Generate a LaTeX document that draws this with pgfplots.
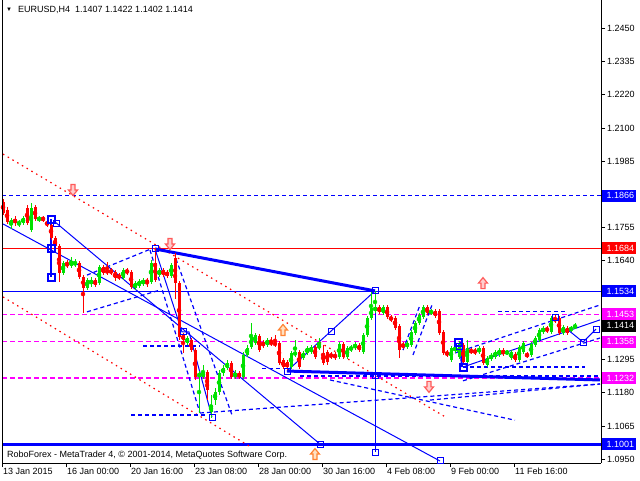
\documentclass[border=0pt]{standalone}
\usepackage{fontspec}
\setmainfont{Liberation Sans}
\usepackage{pgfplots}
\usepackage{pgfplotstable}
\pgfplotsset{compat=1.18}
\usetikzlibrary{plotmarks}
\definecolor{cgreen}{RGB}{0,225,0}
\definecolor{mtblue}{RGB}{0,0,255}
\definecolor{mtmag}{RGB}{255,0,255}
\definecolor{mtred}{RGB}{255,0,0}
\definecolor{arrpink}{RGB}{255,90,90}
\definecolor{arrpinkfill}{RGB}{255,205,205}
\definecolor{arrorange}{RGB}{255,130,50}
\definecolor{arrorangefill}{RGB}{255,225,195}

\pgfdeclareplotmark{dnarr}{%
  \pgfpathmoveto{\pgfpoint{-2pt}{5.5pt}}%
  \pgfpathlineto{\pgfpoint{2pt}{5.5pt}}%
  \pgfpathlineto{\pgfpoint{2pt}{0pt}}%
  \pgfpathlineto{\pgfpoint{4.5pt}{0pt}}%
  \pgfpathlineto{\pgfpoint{0pt}{-5.5pt}}%
  \pgfpathlineto{\pgfpoint{-4.5pt}{0pt}}%
  \pgfpathlineto{\pgfpoint{-2pt}{0pt}}%
  \pgfpathclose
  \pgfusepathqfillstroke}
\pgfdeclareplotmark{uparr}{%
  \pgfpathmoveto{\pgfpoint{-2pt}{-5.5pt}}%
  \pgfpathlineto{\pgfpoint{2pt}{-5.5pt}}%
  \pgfpathlineto{\pgfpoint{2pt}{0pt}}%
  \pgfpathlineto{\pgfpoint{4.5pt}{0pt}}%
  \pgfpathlineto{\pgfpoint{0pt}{5.5pt}}%
  \pgfpathlineto{\pgfpoint{-4.5pt}{0pt}}%
  \pgfpathlineto{\pgfpoint{-2pt}{0pt}}%
  \pgfpathclose
  \pgfusepathqfillstroke}

\pgfplotstableread{
x o h l c
3 1.1844 1.1855 1.1799 1.1806
7 1.1817 1.1827 1.1768 1.1775
15 1.1785 1.1796 1.1761 1.1771
27 1.1824 1.1834 1.1764 1.1771
35 1.1827 1.1834 1.1778 1.1785
43 1.1789 1.1796 1.1775 1.1782
47 1.1775 1.1782 1.1757 1.1764
51 1.1764 1.1775 1.1712 1.1719
55 1.1719 1.1726 1.1677 1.1691
59 1.1691 1.1698 1.1566 1.1597
67 1.1632 1.1643 1.1615 1.1622
79 1.1632 1.1639 1.1576 1.1583
83 1.1583 1.1590 1.1458 1.1545
95 1.1573 1.1580 1.1549 1.1556
103 1.1618 1.1625 1.1590 1.1597
107 1.1608 1.1636 1.1590 1.1597
111 1.1608 1.1615 1.1590 1.1597
115 1.1601 1.1608 1.1569 1.1580
119 1.1590 1.1597 1.1573 1.1580
127 1.1608 1.1615 1.1590 1.1597
131 1.1601 1.1608 1.1542 1.1549
147 1.1573 1.1580 1.1549 1.1562
155 1.1632 1.1684 1.1566 1.1573
163 1.1608 1.1615 1.1583 1.1590
167 1.1601 1.1608 1.1580 1.1587
175 1.1650 1.1667 1.1507 1.1562
179 1.1562 1.1569 1.1364 1.1374
183 1.1382 1.1388 1.1319 1.1364
191 1.1364 1.1371 1.1322 1.1329
195 1.1329 1.1336 1.1225 1.1235
207 1.1252 1.1259 1.1155 1.1190
231 1.1284 1.1291 1.1228 1.1235
239 1.1249 1.1256 1.1228 1.1235
259 1.1378 1.1385 1.1322 1.1329
263 1.1357 1.1364 1.1336 1.1343
271 1.1357 1.1374 1.1343 1.1350
275 1.1354 1.1382 1.1340 1.1347
279 1.1354 1.1361 1.1277 1.1284
283 1.1294 1.1301 1.1263 1.1270
287 1.1287 1.1294 1.1259 1.1270
299 1.1322 1.1329 1.1263 1.1270
315 1.1340 1.1347 1.1298 1.1305
323 1.1319 1.1347 1.1277 1.1284
327 1.1322 1.1329 1.1277 1.1287
331 1.1315 1.1322 1.1298 1.1305
335 1.1312 1.1322 1.1294 1.1305
343 1.1350 1.1357 1.1298 1.1305
359 1.1347 1.1354 1.1322 1.1329
379 1.1479 1.1486 1.1455 1.1462
387 1.1479 1.1486 1.1437 1.1444
391 1.1444 1.1451 1.1427 1.1434
395 1.1441 1.1448 1.1399 1.1406
399 1.1413 1.1420 1.1301 1.1329
403 1.1350 1.1357 1.1333 1.1340
427 1.1479 1.1486 1.1451 1.1458
435 1.1465 1.1472 1.1441 1.1448
439 1.1465 1.1472 1.1382 1.1388
443 1.1392 1.1399 1.1312 1.1319
447 1.1322 1.1329 1.1305 1.1312
463 1.1347 1.1354 1.1277 1.1287
471 1.1329 1.1336 1.1315 1.1322
475 1.1329 1.1336 1.1312 1.1319
483 1.1336 1.1343 1.1277 1.1284
503 1.1329 1.1336 1.1308 1.1315
515 1.1315 1.1322 1.1287 1.1294
527 1.1315 1.1322 1.1301 1.1308
547 1.1406 1.1413 1.1388 1.1395
555 1.1441 1.1451 1.1423 1.1430
559 1.1441 1.1448 1.1382 1.1388
567 1.1406 1.1413 1.1382 1.1388
}\bear

\pgfplotstableread{
x o h l c
11 1.1764 1.1789 1.1750 1.1782
19 1.1768 1.1782 1.1757 1.1775
23 1.1771 1.1796 1.1764 1.1789
31 1.1747 1.1841 1.1740 1.1824
39 1.1782 1.1796 1.1775 1.1789
63 1.1597 1.1639 1.1590 1.1632
71 1.1622 1.1653 1.1615 1.1639
75 1.1625 1.1646 1.1618 1.1636
87 1.1545 1.1580 1.1538 1.1573
91 1.1559 1.1583 1.1549 1.1573
99 1.1562 1.1625 1.1556 1.1618
123 1.1580 1.1615 1.1573 1.1608
135 1.1545 1.1569 1.1538 1.1562
139 1.1552 1.1576 1.1545 1.1569
143 1.1559 1.1580 1.1552 1.1573
151 1.1566 1.1643 1.1559 1.1632
159 1.1590 1.1615 1.1583 1.1608
171 1.1587 1.1632 1.1580 1.1625
187 1.1354 1.1378 1.1347 1.1371
199 1.1235 1.1256 1.1110 1.1249
203 1.1235 1.1277 1.1228 1.1252
211 1.1113 1.1173 1.1093 1.1138
215 1.1155 1.1197 1.1138 1.1183
219 1.1183 1.1259 1.1173 1.1249
223 1.1249 1.1277 1.1239 1.1266
227 1.1266 1.1294 1.1259 1.1284
235 1.1235 1.1259 1.1228 1.1249
243 1.1235 1.1322 1.1228 1.1312
247 1.1312 1.1347 1.1305 1.1336
251 1.1340 1.1423 1.1333 1.1374
255 1.1354 1.1388 1.1347 1.1382
267 1.1347 1.1371 1.1340 1.1364
291 1.1270 1.1326 1.1263 1.1319
295 1.1312 1.1364 1.1305 1.1322
303 1.1301 1.1326 1.1294 1.1319
307 1.1319 1.1343 1.1312 1.1336
311 1.1322 1.1347 1.1315 1.1340
319 1.1336 1.1371 1.1329 1.1347
339 1.1305 1.1357 1.1298 1.1350
347 1.1305 1.1343 1.1298 1.1336
351 1.1329 1.1347 1.1322 1.1340
355 1.1336 1.1357 1.1329 1.1350
363 1.1322 1.1388 1.1315 1.1382
367 1.1382 1.1448 1.1374 1.1441
371 1.1441 1.1531 1.1434 1.1475
375 1.1465 1.1535 1.1458 1.1479
383 1.1458 1.1486 1.1451 1.1479
407 1.1340 1.1361 1.1333 1.1354
411 1.1347 1.1399 1.1340 1.1392
415 1.1388 1.1430 1.1382 1.1423
419 1.1423 1.1458 1.1416 1.1451
423 1.1444 1.1486 1.1437 1.1479
431 1.1458 1.1472 1.1451 1.1465
451 1.1294 1.1343 1.1287 1.1336
455 1.1326 1.1347 1.1319 1.1340
459 1.1305 1.1361 1.1298 1.1354
467 1.1287 1.1364 1.1280 1.1336
479 1.1322 1.1343 1.1315 1.1336
487 1.1277 1.1308 1.1270 1.1301
491 1.1298 1.1319 1.1291 1.1312
495 1.1305 1.1329 1.1298 1.1322
499 1.1312 1.1336 1.1305 1.1329
507 1.1315 1.1329 1.1312 1.1326
511 1.1301 1.1329 1.1294 1.1322
519 1.1294 1.1347 1.1287 1.1340
523 1.1322 1.1361 1.1315 1.1354
531 1.1312 1.1357 1.1305 1.1350
535 1.1347 1.1378 1.1340 1.1371
539 1.1364 1.1406 1.1357 1.1399
543 1.1392 1.1413 1.1385 1.1406
551 1.1392 1.1448 1.1385 1.1441
563 1.1388 1.1416 1.1382 1.1409
571 1.1399 1.1413 1.1392 1.1406
575 1.1407 1.1422 1.1402 1.1414
}\bull

\begin{document}
\begin{tikzpicture}
\fill[white] (-2pt,-17pt) rectangle (638pt,463pt);
\begin{axis}[
  at={(0pt,0pt)}, anchor=south west,
  scale only axis, width=599pt, height=463pt,
  xmin=2, xmax=601, ymin=1.0936, ymax=1.25474,
  axis x line*=bottom, axis y line*=right,
  clip mode=individual,
  font=\fontsize{9}{10}\selectfont,
  xtick={2,66,130,194,258,322,386,450,514},
  xticklabels={13 Jan 2015,16 Jan 00:00,20 Jan 16:00,23 Jan 08:00,28 Jan 00:00,30 Jan 16:00,4 Feb 08:00,9 Feb 00:00,11 Feb 16:00},
  xticklabel style={anchor=north west, inner sep=0pt, xshift=1pt, yshift=-1pt},
  ytick={1.2450,1.2335,1.2220,1.2100,1.1985,1.1755,1.1640,1.1295,1.1180,1.1065,1.0950},
  yticklabels={1.2450,1.2335,1.2220,1.2100,1.1985,1.1755,1.1640,1.1295,1.1180,1.1065,1.0950},
  yticklabel style={anchor=west, inner sep=0pt, xshift=2pt},
  tick align=outside, major tick length=4pt,
  tick style={black, line width=0.8pt},
  axis line style={black, line width=1pt},
]
% level lines
\addplot[mtblue, line width=1.2pt, dash pattern=on 4pt off 3pt] coordinates {(2,1.1866) (601,1.1866)};
\addplot[mtred, line width=1pt] coordinates {(2,1.1684) (601,1.1684)};
\addplot[mtblue, line width=1pt] coordinates {(2,1.1534) (601,1.1534)};
\addplot[mtmag, line width=1.2pt, dash pattern=on 5pt off 3pt] coordinates {(2,1.1453) (601,1.1453)};
\addplot[mtmag, line width=1.2pt, dash pattern=on 5pt off 3pt] coordinates {(2,1.1358) (601,1.1358)};
\addplot[mtmag, line width=1.2pt, dash pattern=on 5pt off 3pt] coordinates {(2,1.1232) (601,1.1232)};
\addplot[mtblue, line width=3pt] coordinates {(2,1.1001) (601,1.1001)};
% red dotted fans
\addplot[mtred, line width=1.2pt, dash pattern=on 1.5pt off 4pt] coordinates {(3,1.2011) (445,1.1097)};
\addplot[mtred, line width=1.2pt, dash pattern=on 1.5pt off 4pt] coordinates {(3,1.1514) (252,1.0989)};
% blue thin solid lines
\addplot[mtblue, line width=1pt] coordinates {(3,1.1768) (440,1.0943)};
\addplot[mtblue, line width=1pt] coordinates {(55,1.1775) (320,1.1002)};
\addplot[mtblue, line width=1pt] coordinates {(155,1.1681) (182,1.1392) (189,1.1392) (212,1.1096)};
\addplot[mtblue, line width=1pt] coordinates {(287,1.1256) (331,1.1395) (375,1.1535)};
\addplot[mtblue, line width=1pt] coordinates {(375,1.1535) (375,1.0974)};
\addplot[mtblue, line width=1pt] coordinates {(463,1.1270) (600,1.1434)};
\addplot[mtblue, line width=1pt] coordinates {(567,1.1402) (583,1.1357) (596,1.1402)};
% blue dashed lines
\addplot[mtblue, line width=1.2pt, dash pattern=on 4pt off 3pt] coordinates {(143,1.1343) (200,1.1343)};
\addplot[mtblue, line width=1.2pt, dash pattern=on 4pt off 3pt] coordinates {(131,1.1103) (205,1.1103)};
\addplot[mtblue, line width=1.2pt, dash pattern=on 4pt off 3pt] coordinates {(200,1.1110) (600,1.1211)};
\addplot[mtblue, line width=1.2pt, dash pattern=on 4pt off 3pt] coordinates {(87,1.1590) (153,1.1684)};
\addplot[mtblue, line width=1.2pt, dash pattern=on 4pt off 3pt] coordinates {(87,1.1462) (160,1.1538)};
\addplot[mtblue, line width=1.2pt, dash pattern=on 4pt off 3pt] coordinates {(150,1.1677) (200,1.1110)};
\addplot[mtblue, line width=1.2pt, dash pattern=on 4pt off 3pt] coordinates {(176,1.1646) (232,1.1103)};
\addplot[mtblue, line width=1.2pt, dash pattern=on 4pt off 3pt] coordinates {(262,1.1266) (287,1.1266)};
\addplot[mtblue, line width=1.2pt, dash pattern=on 4pt off 3pt] coordinates {(403,1.1329) (420,1.1486)};
\addplot[mtblue, line width=1.2pt, dash pattern=on 4pt off 3pt] coordinates {(413,1.1312) (432,1.1486)};
\addplot[mtblue, line width=1.2pt, dash pattern=on 4pt off 3pt] coordinates {(498,1.1462) (567,1.1462)};
\addplot[mtblue, line width=1.2pt, dash pattern=on 4pt off 3pt] coordinates {(455,1.1319) (600,1.1486)};
\addplot[mtblue, line width=1.2pt, dash pattern=on 4pt off 3pt] coordinates {(463,1.1222) (600,1.1371)};
\addplot[mtblue, line width=1.2pt, dash pattern=on 4pt off 3pt] coordinates {(463,1.1270) (585,1.1270)};
\addplot[mtblue, line width=1.2pt, dash pattern=on 4pt off 3pt] coordinates {(300,1.1239) (600,1.1239)};
\addplot[mtblue, line width=1.2pt, dash pattern=on 4pt off 3pt] coordinates {(430,1.1155) (600,1.1211)};
\addplot[mtblue, line width=1.2pt, dash pattern=on 4pt off 3pt] coordinates {(330,1.1225) (515,1.1085)};
% thick blue lines
\addplot[mtblue, line width=3pt] coordinates {(155,1.1681) (375,1.1535)};
\addplot[mtblue, line width=3pt] coordinates {(287,1.1256) (600,1.1225)};
\addplot[mtblue, line width=2pt] coordinates {(51,1.1785) (51,1.1583)};
\addplot[mtblue, line width=2pt] coordinates {(460,1.1357) (462,1.1270)};
% candles: wicks and bodies
\addplot[only marks, mark=none, mtred, error bars/.cd, y dir=both, y explicit, error mark=none, error bar style={line width=1pt, mtred}]
  table[x=x, y expr={(\thisrow{h}+\thisrow{l})/2}, y error expr={(\thisrow{h}-\thisrow{l})/2}] {\bear};
\addplot[only marks, mark=none, mtred, error bars/.cd, y dir=both, y explicit, error mark=none, error bar style={line width=3pt, mtred}]
  table[x=x, y expr={(\thisrow{o}+\thisrow{c})/2}, y error expr={abs(\thisrow{o}-\thisrow{c})/2}] {\bear};
\addplot[only marks, mark=none, cgreen, error bars/.cd, y dir=both, y explicit, error mark=none, error bar style={line width=1pt, cgreen}]
  table[x=x, y expr={(\thisrow{h}+\thisrow{l})/2}, y error expr={(\thisrow{h}-\thisrow{l})/2}] {\bull};
\addplot[only marks, mark=none, cgreen, error bars/.cd, y dir=both, y explicit, error mark=none, error bar style={line width=3pt, cgreen}]
  table[x=x, y expr={(\thisrow{o}+\thisrow{c})/2}, y error expr={abs(\thisrow{o}-\thisrow{c})/2}] {\bull};
% squares
\addplot[only marks, mark=square, mark size=3pt, mtblue, mark options={line width=1pt, fill=none}] coordinates {
(56,1.1768) (155,1.1681) (183,1.1392) (212,1.1096) (287,1.1256) (331,1.1395) (375,1.1535) (375,1.1242) (375,1.0974) (320,1.1002) (440,1.0943) (555,1.1441) (583,1.1357) (596,1.1402) (459,1.1343)};
\addplot[only marks, mark=square, mark size=3.5pt, mtblue, mark options={line width=2pt, fill=none}] coordinates {
(51,1.1785) (51,1.1684) (51,1.1583) (458,1.1357) (463,1.1270)};
% arrows
\addplot[only marks, mark=dnarr, mark options={draw=arrpink, fill=arrpinkfill, line width=1.2pt}] coordinates {(73,1.1886) (170,1.1698) (429,1.1201)};
\addplot[only marks, mark=uparr, mark options={draw=arrorange, fill=arrorangefill, line width=1.2pt}] coordinates {(283,1.1399) (315,1.0967)};
\addplot[only marks, mark=uparr, mark options={draw=arrpink, fill=arrpinkfill, line width=1.2pt}] coordinates {(483,1.1562)};
% left frame
\draw[black, line width=1pt] (rel axis cs:0,0) -- (rel axis cs:0,1);
% texts
\node[anchor=west, inner sep=0pt, font=\fontsize{6}{6}\selectfont] at (axis cs:6,1.2513) {▼};
\node[anchor=west, inner sep=0pt] at (axis cs:18,1.2513) {EURUSD,H4\ \ 1.1407 1.1422 1.1402 1.1414};
\node[anchor=west, inner sep=0pt] at (axis cs:7,1.0964) {RoboForex - MetaTrader 4, © 2001-2014, MetaQuotes Software Corp.};
% price labels
\node[fill=mtblue, text=white, anchor=west, inner sep=0pt, minimum height=12pt] at (axis cs:601.5,1.1866) {\hspace*{5pt}1.1866\hspace*{2pt}};
\node[fill=mtred, text=white, anchor=west, inner sep=0pt, minimum height=12pt] at (axis cs:601.5,1.1684) {\hspace*{5pt}1.1684\hspace*{2pt}};
\node[fill=mtblue, text=white, anchor=west, inner sep=0pt, minimum height=12pt] at (axis cs:601.5,1.1534) {\hspace*{5pt}1.1534\hspace*{2pt}};
\node[fill=mtmag, text=white, anchor=west, inner sep=0pt, minimum height=12pt] at (axis cs:601.5,1.1453) {\hspace*{5pt}1.1453\hspace*{2pt}};
\node[fill=black, text=white, anchor=west, inner sep=0pt, minimum height=12pt] at (axis cs:601.5,1.1414) {\hspace*{5pt}1.1414\hspace*{2pt}};
\node[fill=mtmag, text=white, anchor=west, inner sep=0pt, minimum height=12pt] at (axis cs:601.5,1.1358) {\hspace*{5pt}1.1358\hspace*{2pt}};
\node[fill=mtmag, text=white, anchor=west, inner sep=0pt, minimum height=12pt] at (axis cs:601.5,1.1232) {\hspace*{5pt}1.1232\hspace*{2pt}};
\node[fill=mtblue, text=white, anchor=west, inner sep=0pt, minimum height=12pt] at (axis cs:601.5,1.1001) {\hspace*{5pt}1.1001\hspace*{2pt}};
\end{axis}
\pgfresetboundingbox
\path[use as bounding box] (-2pt,-17pt) rectangle (638pt,463pt);
\end{tikzpicture}
\end{document}
